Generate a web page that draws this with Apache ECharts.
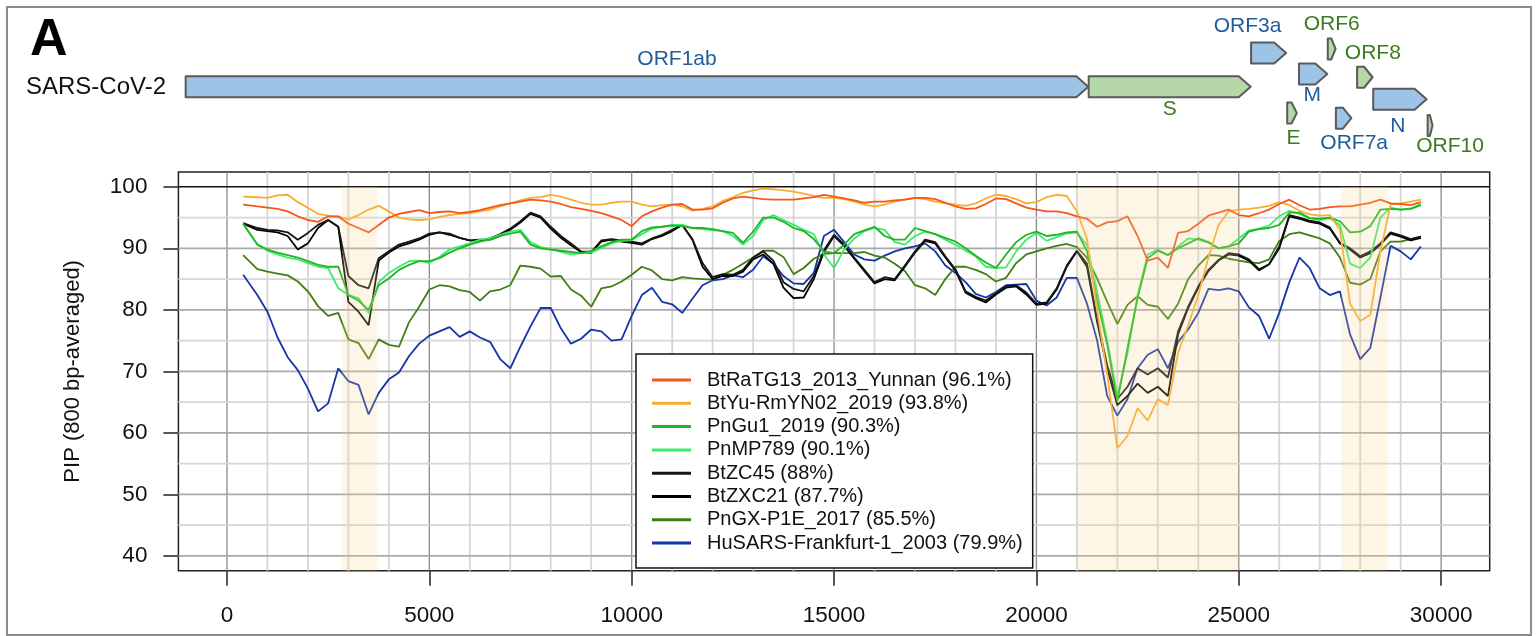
<!DOCTYPE html>
<html><head><meta charset="utf-8">
<script src="https://cdn.jsdelivr.net/npm/echarts@6/dist/echarts.min.js"></script>
<style>html,body{margin:0;padding:0;background:#fff}#c{width:1538px;height:636px}</style>
</head><body><div id="c"></div>
<script>
// ---------- DATA ----------
const positions = [400,750,1000,1250,1500,1750,2000,2250,2500,2750,
3000,3250,3500,3750,4000,4250,4500,4750,5000,5250,
5500,5750,6000,6250,6500,6750,7000,7250,7500,7750,
8000,8250,8500,8750,9000,9250,9500,9750,10000,10250,
10500,10750,11000,11250,11500,11750,12000,12250,12500,12750,
13000,13250,13500,13750,14000,14250,14500,14750,15000,15250,
15500,15750,16000,16250,16500,16750,17000,17250,17500,17750,
18000,18250,18500,18750,19000,19250,19500,19750,20000,20250,
20500,20750,21000,21250,21500,21750,22000,22250,22500,22750,
23000,23250,23500,23750,24000,24250,24500,24750,25000,25250,
25500,25750,26000,26250,26500,26750,27000,27250,27500,27750,
28000,28250,28500,28750,29000,29250,29500];

const BtRaTG13 = [97.1,96.8,96.6,96.4,96.0,95.2,94.6,94.3,95.2,95.2,
94.0,93.3,92.6,93.8,95.0,95.6,95.9,96.2,95.7,95.9,
96.0,95.7,95.9,96.2,96.6,97.0,97.3,97.6,97.9,97.8,
97.6,97.2,96.7,96.4,96.1,95.7,95.2,94.6,93.6,95.2,
96.0,96.6,97.1,97.2,96.3,96.3,96.5,97.4,98.1,98.4,
98.2,98.0,97.9,97.9,97.9,98.1,98.3,98.7,98.4,98.1,
97.8,97.4,97.6,97.6,97.8,97.9,98.2,98.2,98.0,97.4,
96.8,96.4,96.5,97.2,98.1,98.0,97.3,96.6,96.3,96.0,
96.0,95.7,95.2,94.8,93.5,94.2,94.4,95.2,92.0,88.0,
88.5,86.8,92.5,92.8,94.0,95.3,95.8,96.3,95.4,95.2,
95.7,96.3,97.2,97.9,97.0,96.3,96.4,96.7,96.8,96.8,
97.1,97.4,97.9,97.3,97.2,97.0,97.5];

const BtYuRmYN02 = [98.4,98.3,98.2,98.6,98.7,97.5,96.6,95.6,95.3,95.1,
94.7,95.4,96.3,96.9,96.0,95.0,94.7,94.6,94.7,95.1,
95.4,95.6,95.7,96.0,96.3,96.8,97.3,97.8,98.2,98.3,
98.7,98.4,97.9,97.4,97.1,97.1,97.4,97.6,97.6,97.1,
96.8,97.0,97.1,96.8,96.1,96.4,96.8,97.7,98.3,99.0,
99.4,99.7,99.6,99.4,99.2,98.9,98.5,98.2,98.2,98.0,
97.6,97.1,96.8,97.1,97.6,97.9,98.2,98.0,97.6,97.3,
97.1,96.9,97.3,98.1,98.7,98.5,98.0,97.3,97.5,98.3,
98.7,98.5,96.0,91.5,80.0,69.5,57.5,59.5,64.0,62.0,
65.5,64.5,73.0,77.5,82.4,88.5,93.8,96.0,96.3,96.4,
96.6,96.9,97.5,97.0,96.1,95.5,95.3,95.4,93.0,81.0,
78.2,79.2,89.5,97.1,97.3,97.6,97.9];

const PnGu1 = [94.0,90.6,89.8,89.3,88.9,88.5,87.9,87.3,87.0,87.0,
82.4,81.5,80.0,84.0,85.1,86.5,87.3,87.9,87.9,88.4,
89.3,90.0,90.6,91.1,91.4,92.0,92.4,92.7,90.6,90.0,
89.8,89.6,89.4,89.2,89.6,90.3,91.0,91.4,91.4,92.8,
93.4,93.5,93.7,93.6,93.3,93.3,93.1,92.8,92.5,90.9,
92.7,95.0,95.0,94.3,93.3,92.8,91.5,89.5,89.2,90.6,
92.3,92.9,93.5,92.0,91.4,91.4,93.3,92.8,92.3,91.7,
91.1,90.0,88.8,87.7,86.8,89.0,91.0,92.2,92.7,92.0,
92.2,92.6,92.7,89.5,81.6,74.3,65.1,73.8,81.9,88.4,
89.6,88.9,90.0,90.8,91.6,91.0,90.0,90.3,90.8,92.7,
93.1,93.3,93.8,95.8,95.8,94.9,94.8,95.0,94.4,92.6,
92.7,93.6,96.3,96.4,96.3,96.4,97.0];

const PnMP789 = [94.0,90.6,89.6,89.0,88.5,88.2,87.6,87.0,86.8,83.5,
82.4,81.9,79.5,84.5,86.0,87.0,87.9,88.0,87.6,88.6,
89.8,90.3,90.8,91.4,91.6,92.2,92.7,93.0,91.0,90.2,
89.9,89.4,89.0,89.2,89.3,90.0,90.8,91.2,91.3,92.3,
93.2,93.5,93.8,93.8,93.3,93.1,92.9,92.8,92.0,90.6,
92.0,94.6,95.4,94.6,93.8,93.0,92.3,89.0,86.8,89.8,
91.6,92.8,93.3,93.0,91.0,90.6,92.0,92.7,92.3,91.4,
90.6,89.6,88.7,87.0,86.8,86.9,89.5,91.4,92.5,91.2,
91.8,92.4,92.6,90.5,83.0,75.0,66.0,72.9,82.4,89.0,
89.8,88.9,90.3,91.6,91.4,90.9,90.0,90.3,91.6,92.9,
93.2,93.7,95.2,96.1,95.6,94.9,94.6,94.9,93.8,87.5,
86.8,88.5,95.0,96.6,96.3,96.5,97.2];

const BtZC45 = [94.1,93.3,93.0,92.9,92.6,91.4,92.5,93.8,94.6,93.5,
85.5,84.0,83.5,88.4,89.5,90.6,91.1,91.6,92.4,92.6,
92.4,91.7,91.3,91.2,91.6,92.3,93.2,94.4,95.8,95.2,
93.5,92.0,90.8,89.5,89.4,91.3,91.5,91.3,91.1,90.8,
91.6,92.2,93.0,93.8,91.5,87.6,85.3,85.8,85.7,86.5,
88.5,89.5,88.0,84.5,83.4,83.0,85.5,89.7,92.2,90.6,
88.5,86.5,84.5,85.3,85.0,87.2,89.5,91.4,91.0,88.7,
86.6,83.0,82.1,81.5,82.7,83.8,84.0,82.8,81.0,81.2,
83.5,87.2,89.6,87.5,78.5,71.0,65.5,67.5,70.5,69.5,
70.5,69.0,76.5,80.5,83.8,86.5,88.1,89.2,89.0,88.2,
86.6,87.4,90.3,95.4,95.0,94.5,94.2,93.4,90.9,90.0,
88.7,89.5,90.8,92.6,92.1,91.5,91.9];

const BtZXC21 = [94.0,93.0,92.8,92.6,92.0,89.8,90.8,93.3,94.6,93.5,
81.3,79.7,77.5,88.0,89.3,90.3,90.8,91.4,92.2,92.6,
92.2,91.7,91.3,91.4,91.4,92.0,93.0,94.2,95.6,95.0,
93.2,91.7,90.5,89.4,89.2,91.1,91.4,91.1,90.9,90.6,
91.5,92.0,92.8,93.8,91.4,87.0,85.0,85.5,85.5,86.2,
88.2,89.0,87.5,83.6,81.9,82.0,85.0,89.4,92.0,90.4,
88.3,86.3,84.3,85.0,84.8,87.0,89.3,91.2,90.8,88.5,
86.4,82.8,81.9,81.2,82.5,83.6,83.8,82.5,80.8,81.0,
83.3,87.0,89.5,87.0,78.0,70.5,64.5,66.0,68.0,66.5,
67.5,66.0,76.0,80.3,83.6,86.3,88.0,89.0,88.8,88.0,
86.4,87.4,90.0,95.2,94.8,94.3,94.0,93.2,90.8,89.8,
88.5,89.2,90.6,92.4,91.9,91.3,91.7];

const PnGXP1E = [88.9,86.6,86.2,85.9,85.6,84.6,83.0,80.6,79.0,79.5,
75.2,74.6,72.0,75.2,74.3,74.0,78.0,80.5,83.3,84.0,
83.8,83.2,82.9,81.5,83.0,83.3,84.0,87.2,87.0,86.7,
85.4,85.5,83.3,82.3,80.5,83.5,83.8,84.6,85.7,87.0,
86.4,85.0,84.8,85.3,85.1,85.0,84.9,85.7,86.5,87.5,
88.5,89.6,89.6,88.6,85.8,86.8,88.3,89.1,89.2,89.2,
89.2,89.4,88.8,88.5,87.5,86.3,84.0,83.5,82.4,85.0,
87.0,87.0,86.5,85.8,84.6,85.2,87.6,89.0,89.5,90.0,
90.4,90.7,90.2,88.5,85.1,81.3,77.7,80.8,82.2,80.8,
80.5,78.5,81.0,85.0,87.2,88.9,88.8,88.3,88.0,87.7,
87.6,88.2,91.2,92.3,92.6,92.1,91.6,90.8,88.5,84.4,
84.1,85.0,89.5,91.1,91.1,91.5,91.9];

const HuSARS = [85.7,82.4,79.7,75.5,72.3,70.2,67.2,63.5,64.8,70.5,
68.4,67.8,63.0,66.5,68.7,69.8,72.5,74.5,75.8,76.5,
77.2,75.6,76.5,75.5,74.8,72.0,70.5,74.0,77.3,80.3,
80.3,77.0,74.5,75.3,76.8,76.5,75.0,75.2,79.0,82.4,
83.6,81.3,80.9,79.5,81.8,84.0,84.8,85.0,85.6,85.3,
86.5,88.7,87.5,85.5,84.3,84.2,86.0,92.0,93.0,91.0,
89.0,88.2,88.0,88.8,89.5,90.0,90.3,90.8,89.5,87.2,
86.0,84.5,82.6,82.0,82.9,84.0,84.1,84.2,81.5,80.7,
82.0,85.2,85.2,81.0,75.0,66.0,62.8,65.5,70.5,72.7,
73.6,70.5,74.8,76.8,79.5,83.4,83.2,83.5,83.0,80.4,
79.0,75.3,79.5,84.5,88.5,86.8,83.5,82.4,83.0,76.0,
72.0,73.8,82.0,90.4,89.5,88.2,90.3];

const seriesNames = ['BtRaTG13_2013_Yunnan (96.1%)','BtYu-RmYN02_2019 (93.8%)','PnGu1_2019 (90.3%)',
  'PnMP789 (90.1%)','BtZC45 (88%)','BtZXC21 (87.7%)','PnGX-P1E_2017 (85.5%)','HuSARS-Frankfurt-1_2003 (79.9%)'];
const seriesValues = [BtRaTG13, BtYuRmYN02, PnGu1, PnMP789, BtZC45, BtZXC21, PnGXP1E, HuSARS];

const xTicks = [0,5000,10000,15000,20000,25000,30000];
const yTicks = [40,50,60,70,80,90,100];
const xMinorGrid = [1000,2000,3000,4000,6000,7000,8000,9000,11000,12000,13000,14000,16000,17000,18000,19000,21000,22000,23000,24000,26000,27000,28000,29000];
const xMajorGrid = [0,5000,10000,15000,20000,25000,30000];
const yMinorGrid = [45,55,65,75,85,95];
const yMajorGrid = [40,50,60,70,80,90];
const yRefLine = [100];

const shadeStart = [2850, 21000, 27530];
const shadeEnd = [3720, 25000, 28680];

const geneNames = ['ORF1ab','S','ORF3a','E','M','ORF6','ORF7a','ORF8','N','ORF10'];
const geneStart = [266,21563,25393,26245,26523,27202,27394,27894,28274,29558];
const geneEnd = [21555,25384,26220,26472,27191,27387,27759,28259,29533,29674];
const geneLane = [0,0,-1.6,1.25,-0.6,-1.8,1.5,-0.45,0.6,1.85];
const geneGroup = ['blue','green','blue','green','blue','green','blue','green','blue','green'];

// ---------- STYLE ----------
const FONT = '"Liberation Sans", Arial, Helvetica, sans-serif';
const seriesColors = ['#F4561C','#F7AE2E','#22B422','#3CEB6E','#151515','#000000','#3F7F12','#1535A8'];
const geneFill = {blue:'#9DC3E6', green:'#B6D7A8'};
const geneText = {blue:'#1F5C99', green:'#3B7A1F'};
const geneLabelPos = {
  ORF1ab:{dx:40, dy:-27}, S:{dx:0, dy:23}, ORF3a:{dx:-21, dy:-26.5}, E:{dx:1.5, dy:25},
  M:{dx:-1, dy:21.5}, ORF6:{dx:0, dy:-24.5}, ORF7a:{dx:10.5, dy:25}, ORF8:{dx:8, dy:-24.5},
  N:{dx:-2, dy:27}, ORF10:{dx:20, dy:20.5}
};
const gridStyle = [
  {color:'#d6d6d6', width:1.8},
  {color:'#8a8a8a', width:1.3},
  {color:'#d6d6d6', width:1.8},
  {color:'#a9a9a9', width:1.8},
  {color:'#111111', width:1.6}
];

const chart = echarts.init(document.getElementById('c'));

const gridData = [].concat(
  xMinorGrid.map(v => [v, 0]), xMajorGrid.map(v => [v, 1]),
  yMinorGrid.map(v => [v, 2]), yMajorGrid.map(v => [v, 3]), yRefLine.map(v => [v, 4]));

const lineSeries = seriesNames.map((name, i) => ({
  name, type: 'line', xAxisIndex: 0, yAxisIndex: 0,
  data: positions.map((p, j) => [p, seriesValues[i][j]]),
  showSymbol: false, symbol: 'none', silent: true,
  lineStyle: {color: seriesColors[i], width: 1.8},
  itemStyle: {color: seriesColors[i]},
  z: 3
})).reverse();

const option = {
  animation: false,
  backgroundColor: '#fff',
  grid: [
    {left: 178.4, top: 172, width: 1311.3, height: 398.7, show: true, borderColor: '#222', borderWidth: 1.5, backgroundColor: 'rgba(0,0,0,0)'},
    {left: 174.4, top: 2.7, width: 1272, height: 168, show: false}
  ],
  xAxis: [
    {type: 'value', gridIndex: 0, min: -1200, max: 31200, position: 'bottom',
     axisLine: {show: false, onZero: false}, splitLine: {show: false},
     axisTick: {show: true, inside: false, length: 15, customValues: xTicks, lineStyle: {color: '#222', width: 1.5}},
     axisLabel: {customValues: xTicks, formatter: v => String(v), fontSize: 22.5, color: '#111', margin: 34, fontFamily: FONT}},
    {type: 'value', gridIndex: 1, min: 0, max: 30000, show: false}
  ],
  yAxis: [
    {type: 'value', gridIndex: 0, min: 37.6, max: 102.4, position: 'left',
     axisLine: {show: false, onZero: false}, splitLine: {show: false},
     axisTick: {show: true, inside: false, length: 15, customValues: yTicks, lineStyle: {color: '#222', width: 1.5}},
     axisLabel: {customValues: yTicks, formatter: v => String(v), fontSize: 22.5, color: '#111', margin: 31, fontFamily: FONT},
     name: 'PIP (800 bp-averaged)', nameLocation: 'middle', nameGap: 94,
     nameTextStyle: {fontSize: 22, color: '#111', fontFamily: FONT}},
    {type: 'value', gridIndex: 1, min: -4, max: 4, inverse: true, show: false}
  ],
  legend: {
    data: seriesNames, orient: 'vertical', left: 636, top: 354,
    backgroundColor: '#fff', borderColor: '#111', borderWidth: 1.5, borderRadius: 0,
    padding: [16, 10, 15, 16], itemWidth: 39, itemHeight: 3, itemGap: 3.3, icon: 'rect',
    selectedMode: false, z: 20,
    textStyle: {fontSize: 20, lineHeight: 20, color: '#111', fontFamily: FONT, padding: [0, 0, 0, 11]}
  },
  graphic: [
    {type: 'rect', z: 50, silent: true, shape: {x: 7, y: 7, width: 1524, height: 628}, style: {fill: 'none', stroke: '#8c8c8c', lineWidth: 2}},
    {type: 'text', z: 50, x: 30, y: 41, style: {text: 'A', font: 'bold 52px ' + FONT, fill: '#000', textAlign: 'left', textVerticalAlign: 'middle'}},
    {type: 'text', z: 50, x: 26, y: 87, style: {text: 'SARS-CoV-2', font: '24px ' + FONT, fill: '#111', textAlign: 'left', textVerticalAlign: 'middle'}}
  ],
  series: [
    {type: 'custom', name: 'grid-lines', xAxisIndex: 0, yAxisIndex: 0, z: 1, silent: true,
     data: gridData,
     renderItem(params, api) {
       const v = api.value(0), k = api.value(1), cs = params.coordSys;
       const st = gridStyle[k];
       let shape;
       if (k <= 1) { const x = api.coord([v, 70])[0]; shape = {x1: x, y1: cs.y, x2: x, y2: cs.y + cs.height}; }
       else { const y = api.coord([0, v])[1]; shape = {x1: cs.x, y1: y, x2: cs.x + cs.width, y2: y}; }
       return {type: 'line', shape, style: {stroke: st.color, lineWidth: st.width}};
     }},
    ...lineSeries,
    {type: 'custom', name: 'shade', xAxisIndex: 0, yAxisIndex: 0, z: 5, silent: true,
     data: shadeStart.map((s, i) => [s, shadeEnd[i]]),
     renderItem(params, api) {
       const cs = params.coordSys;
       const p0 = api.coord([api.value(0), 100]);
       const p1 = api.coord([api.value(1), 100]);
       return {type: 'rect', shape: {x: p0[0], y: p0[1], width: p1[0] - p0[0], height: cs.y + cs.height - p0[1]},
               style: {fill: 'rgba(245,210,140,0.22)'}};
     }},
    {type: 'custom', name: 'genes', xAxisIndex: 1, yAxisIndex: 1, z: 6, silent: true,
     data: geneNames.map((n, i) => [geneStart[i], geneEnd[i], geneLane[i], i]),
     renderItem(params, api) {
       const i = api.value(3);
       const name = geneNames[i];
       const s = api.coord([api.value(0), api.value(2)]);
       const e = api.coord([api.value(1), api.value(2)]);
       const h = api.size([0, 1])[1];
       const x0 = s[0], x1 = e[0], cy = s[1], top = cy - h / 2, bot = cy + h / 2;
       const head = Math.min(12, (x1 - x0) * 0.55);
       const lp = geneLabelPos[name];
       const g = geneGroup[i];
       return {type: 'group', children: [
         {type: 'polygon', shape: {points: [[x0, top], [x1 - head, top], [x1, cy], [x1 - head, bot], [x0, bot]]},
          style: {fill: geneFill[g], stroke: '#5a5a5a', lineWidth: 2, lineJoin: 'round'}},
         {type: 'text', style: {text: name, x: (x0 + x1) / 2 + lp.dx, y: cy + lp.dy, fill: geneText[g],
          font: '21px ' + FONT, align: 'center', verticalAlign: 'middle', textAlign: 'center', textVerticalAlign: 'middle'}}
       ]};
     }}
  ]
};
chart.setOption(option);
</script>
</body></html>
